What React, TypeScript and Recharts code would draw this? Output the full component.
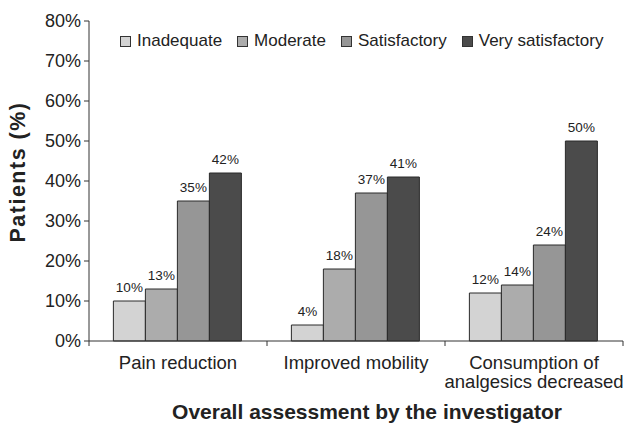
import { BarChart, Bar, XAxis, YAxis, Legend, LabelList } from 'recharts';

const categories = ['Pain reduction', 'Improved mobility', 'Consumption of\nanalgesics decreased'];
const inadequate = [10, 4, 12];
const moderate = [13, 18, 14];
const satisfactory = [35, 37, 24];
const verySatisfactory = [42, 41, 50];
const yTicks = [0, 10, 20, 30, 40, 50, 60, 70, 80];

const series = [
  { key: 'inadequate', name: 'Inadequate', color: '#d3d3d3' },
  { key: 'moderate', name: 'Moderate', color: '#acacac' },
  { key: 'satisfactory', name: 'Satisfactory', color: '#969696' },
  { key: 'verySatisfactory', name: 'Very satisfactory', color: '#4b4b4b' },
];

const data = categories.map((name, i) => ({
  name,
  inadequate: inadequate[i],
  moderate: moderate[i],
  satisfactory: satisfactory[i],
  verySatisfactory: verySatisfactory[i],
}));

const FONT = '"Liberation Sans", Arial, sans-serif';
const INK = '#222';

// category label split on newline; tick marks sit at the category edges, not the centre
function CategoryTick(props: any) {
  const { x, y, payload, index, width, visibleTicksCount } = props;
  const lines = String(payload.value).split('\n');
  const band = width && visibleTicksCount ? width / visibleTicksCount : 0;
  const edges = [x - band / 2];
  if (index === visibleTicksCount - 1) edges.push(x + band / 2);
  return (
    <g>
      {band > 0 &&
        edges.map((ex, i) => <line key={i} x1={ex} x2={ex} y1={y - 5} y2={y} stroke="#333" />)}
      <text x={x} y={y} textAnchor="middle" fontSize={18.5} fontFamily={FONT} fill={INK}>
        {lines.map((line, i) => (
          <tspan key={i} x={x} dy={i === 0 ? 23 : 19}>
            {line}
          </tspan>
        ))}
      </text>
    </g>
  );
}

function YTitle(props: any) {
  const { viewBox } = props;
  const cx = viewBox.x + 25;
  const cy = viewBox.y + viewBox.height / 2 - 9;
  return (
    <text
      x={cx}
      y={cy}
      transform={`rotate(-90 ${cx} ${cy})`}
      textAnchor="middle"
      fontSize={21.5}
      fontWeight="bold"
      letterSpacing={1.5}
      fontFamily={FONT}
      fill={INK}
    >
      Patients (%)
    </text>
  );
}

function XTitle(props: any) {
  const { viewBox } = props;
  return (
    <text
      x={viewBox.x + viewBox.width / 2 + 11}
      y={viewBox.y + 78}
      textAnchor="middle"
      fontSize={21}
      fontWeight="bold"
      fontFamily={FONT}
      fill={INK}
    >
      Overall assessment by the investigator
    </text>
  );
}

function LegendContent() {
  return (
    <div style={{ display: 'flex', alignItems: 'center', fontFamily: FONT, fontSize: 17, color: INK, whiteSpace: 'nowrap' }}>
      {series.map((s) => (
        <div key={s.key} style={{ display: 'flex', alignItems: 'center', marginRight: 15 }}>
          <span
            style={{
              display: 'inline-block',
              width: 9,
              height: 9,
              background: s.color,
              border: '1px solid #333',
              marginRight: 6,
            }}
          />
          <span>{s.name}</span>
        </div>
      ))}
    </div>
  );
}

export default function App() {
  return (
    <div style={{ position: 'absolute', left: 0, top: 0, background: '#fff' }}>
      <BarChart
        width={629}
        height={427}
        data={data}
        margin={{ top: 21, right: 6, left: 0, bottom: 0 }}
        barCategoryGap="13.7%"
        barGap={0}
      >
        <XAxis
          dataKey="name"
          height={86}
          axisLine={{ stroke: '#333' }}
          tickLine={false}
          tickSize={5}
          tickMargin={0}
          tick={<CategoryTick />}
          interval={0}
          label={<XTitle />}
        />
        <YAxis
          width={89}
          domain={[0, 80]}
          ticks={yTicks}
          interval={0}
          tickFormatter={(v: number) => `${v}%`}
          tickSize={5}
          tickMargin={3}
          axisLine={{ stroke: '#333' }}
          tickLine={{ stroke: '#333' }}
          tick={{ fontSize: 18, fontFamily: FONT, fill: INK }}
          label={<YTitle />}
        />
        <Legend
          layout="horizontal"
          verticalAlign="middle"
          align="center"
          content={<LegendContent />}
          wrapperStyle={{ top: 31, left: 120, width: 'auto' }}
        />
        {series.map((s) => (
          <Bar
            key={s.key}
            dataKey={s.key}
            name={s.name}
            fill={s.color}
            stroke="#2a2a2a"
            strokeWidth={1}
            isAnimationActive={false}
          >
            <LabelList
              dataKey={s.key}
              position="top"
              offset={9}
              formatter={(v: any) => `${v}%`}
              style={{ fontSize: 13.5, fontFamily: FONT, fill: INK }}
            />
          </Bar>
        ))}
      </BarChart>
    </div>
  );
}
